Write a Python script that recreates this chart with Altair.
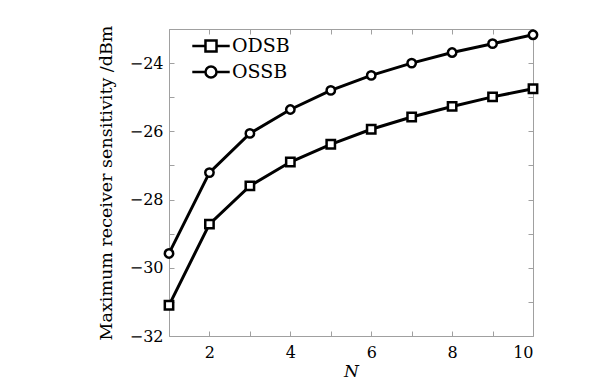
import altair as alt
import pandas as pd

N = [1, 2, 3, 4, 5, 6, 7, 8, 9, 10]
odsb = [-31.1, -28.72, -27.6, -26.9, -26.38, -25.94, -25.58, -25.27, -24.99, -24.75]
ossb = [-29.58, -27.21, -26.06, -25.36, -24.80, -24.36, -24.0, -23.69, -23.43, -23.17]
series = ["ODSB", "OSSB"]
x_ticks = list(range(1, 11))
y_ticks = list(range(-32, -22))

rows = []
for n, a, b in zip(N, odsb, ossb):
    rows.append({"N": n, "val": a, "series": series[0]})
    rows.append({"N": n, "val": b, "series": series[1]})
df = pd.DataFrame(rows)

FONT = "DejaVu Serif"
xs = alt.Scale(domain=[1, 10], nice=False, zero=False)
ys = alt.Scale(domain=[-32, -23], nice=False, zero=False)

common_axis = dict(domain=False, grid=False, tickColor="#a0a0a0", tickWidth=1,
                   tickSize=5, offset=-5, labelFont=FONT, labelFontSize=16,
                   labelColor="black", titleFont=FONT, titleColor="black",
                   titleFontWeight="normal")

x_bottom = alt.Axis(orient="bottom", values=x_ticks,
                    labelExpr="datum.value % 2 == 0 ? datum.label : ''",
                    labelPadding=8, title="N", titleFontStyle="italic",
                    titleFontSize=17, titlePadding=3, **common_axis)
y_left = alt.Axis(orient="left", values=y_ticks, format="d",
                  labelExpr="datum.value % 2 == 0 ? datum.label : ''",
                  labelPadding=6, title="Maximum receiver sensitivity /dBm",
                  titleFontSize=17.5, titlePadding=14, **common_axis)
x_top = alt.Axis(orient="top", values=x_ticks, labels=False, title=None, **common_axis)
y_right = alt.Axis(orient="right", values=y_ticks, labels=False, title=None, **common_axis)

base = alt.Chart(df)

lines = base.mark_line(color="black", strokeWidth=3).encode(
    x=alt.X("N:Q", scale=xs, axis=x_bottom),
    y=alt.Y("val:Q", scale=ys, axis=y_left),
    detail="series:N",
)

points = base.mark_point(filled=False, fill="white", fillOpacity=1, color="black",
                         strokeWidth=2.5, size=70, opacity=1).encode(
    x=alt.X("N:Q", scale=xs, axis=None),
    y=alt.Y("val:Q", scale=ys, axis=None),
    shape=alt.Shape("series:N", scale=alt.Scale(domain=series, range=["square", "circle"]),
                    legend=None),
)

sq_path = "M-2,0H-0.59M0.59,0H2M-0.59,-0.59H0.59V0.59H-0.59Z"
ci_path = "M-2,0H-0.59M0.59,0H2M0.59,0A0.59,0.59 0 1,1 -0.59,0A0.59,0.59 0 1,1 0.59,0Z"

legend_layer = base.mark_point(opacity=0).encode(
    x=alt.X("N:Q", scale=xs, axis=x_top),
    y=alt.Y("val:Q", scale=ys, axis=y_right),
    shape=alt.Shape("series:N", scale=alt.Scale(domain=series, range=[sq_path, ci_path]),
                    legend=alt.Legend(title=None, orient="none", legendX=31, legendY=6,
                                      symbolSize=350, symbolStrokeColor="black",
                                      symbolFillColor="white", symbolStrokeWidth=2.5,
                                      symbolOpacity=1, labelFont=FONT, labelFontSize=19,
                                      labelColor="black", labelOffset=10, rowPadding=4)),
)

chart = alt.layer(lines, points, legend_layer).resolve_scale(
    shape="independent"
).resolve_axis(x="independent", y="independent").properties(
    width=364, height=307,
    autosize=alt.AutoSizeParams(type="none"),
    padding={"left": 161, "top": 21, "right": 74, "bottom": 47},
    background="white",
).configure_view(stroke="#a0a0a0", strokeWidth=1)

chart.save("out.html", embed_options={"renderer": "svg", "actions": False})
